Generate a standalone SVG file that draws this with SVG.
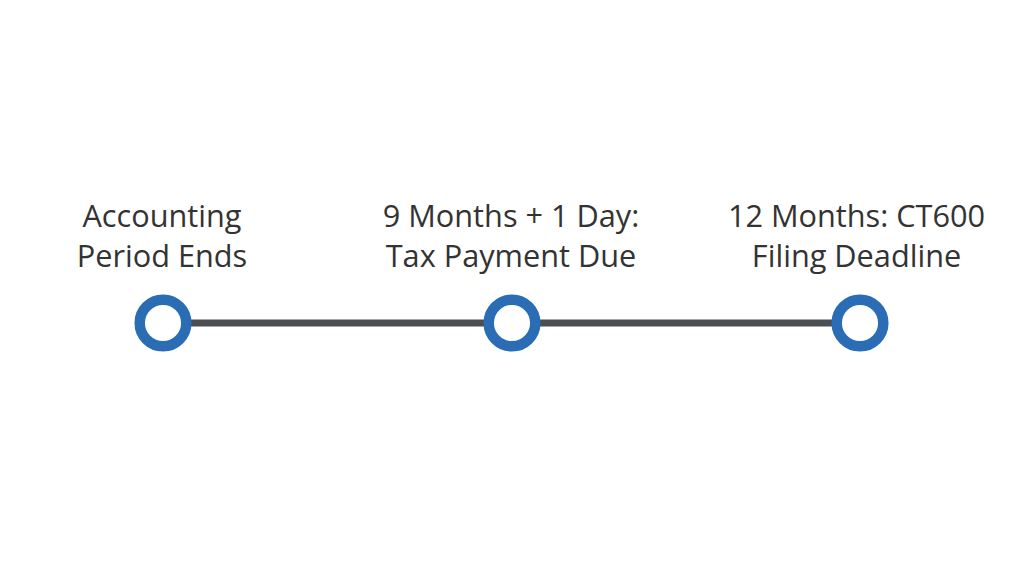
<svg xmlns="http://www.w3.org/2000/svg" width="1024" height="572" viewBox="0 0 1024 572">
<style>
.lbl{font-family:"Open Sans","Noto Sans",sans-serif;font-size:30.7px;fill:#333333;text-anchor:middle}
.ring{fill:#ffffff;stroke:#2a6db5;stroke-width:10.5}
.conn{stroke:#4a4f54;stroke-width:7;fill:none}
</style>
<rect width="1024" height="572" fill="#ffffff"/>
<g id="connectors">
<line class="conn" x1="163" y1="323" x2="512" y2="323"/>
<line class="conn" x1="512" y1="323" x2="860" y2="323"/>
</g>
<g id="node1">
<circle class="ring" cx="163" cy="323" r="23.3"/>
<text class="lbl" x="162" y="226.5">Accounting</text>
<text class="lbl" x="162" y="266.5">Period Ends</text>
</g>
<g id="node2">
<circle class="ring" cx="512" cy="323" r="23.3"/>
<text class="lbl" x="511" y="226.5">9 Months + 1 Day:</text>
<text class="lbl" x="511" y="266.5">Tax Payment Due</text>
</g>
<g id="node3">
<circle class="ring" cx="860" cy="323" r="23.3"/>
<text class="lbl" x="856.5" y="226.5">12 Months: CT600</text>
<text class="lbl" x="856.5" y="266.5">Filing Deadline</text>
</g>
</svg>
